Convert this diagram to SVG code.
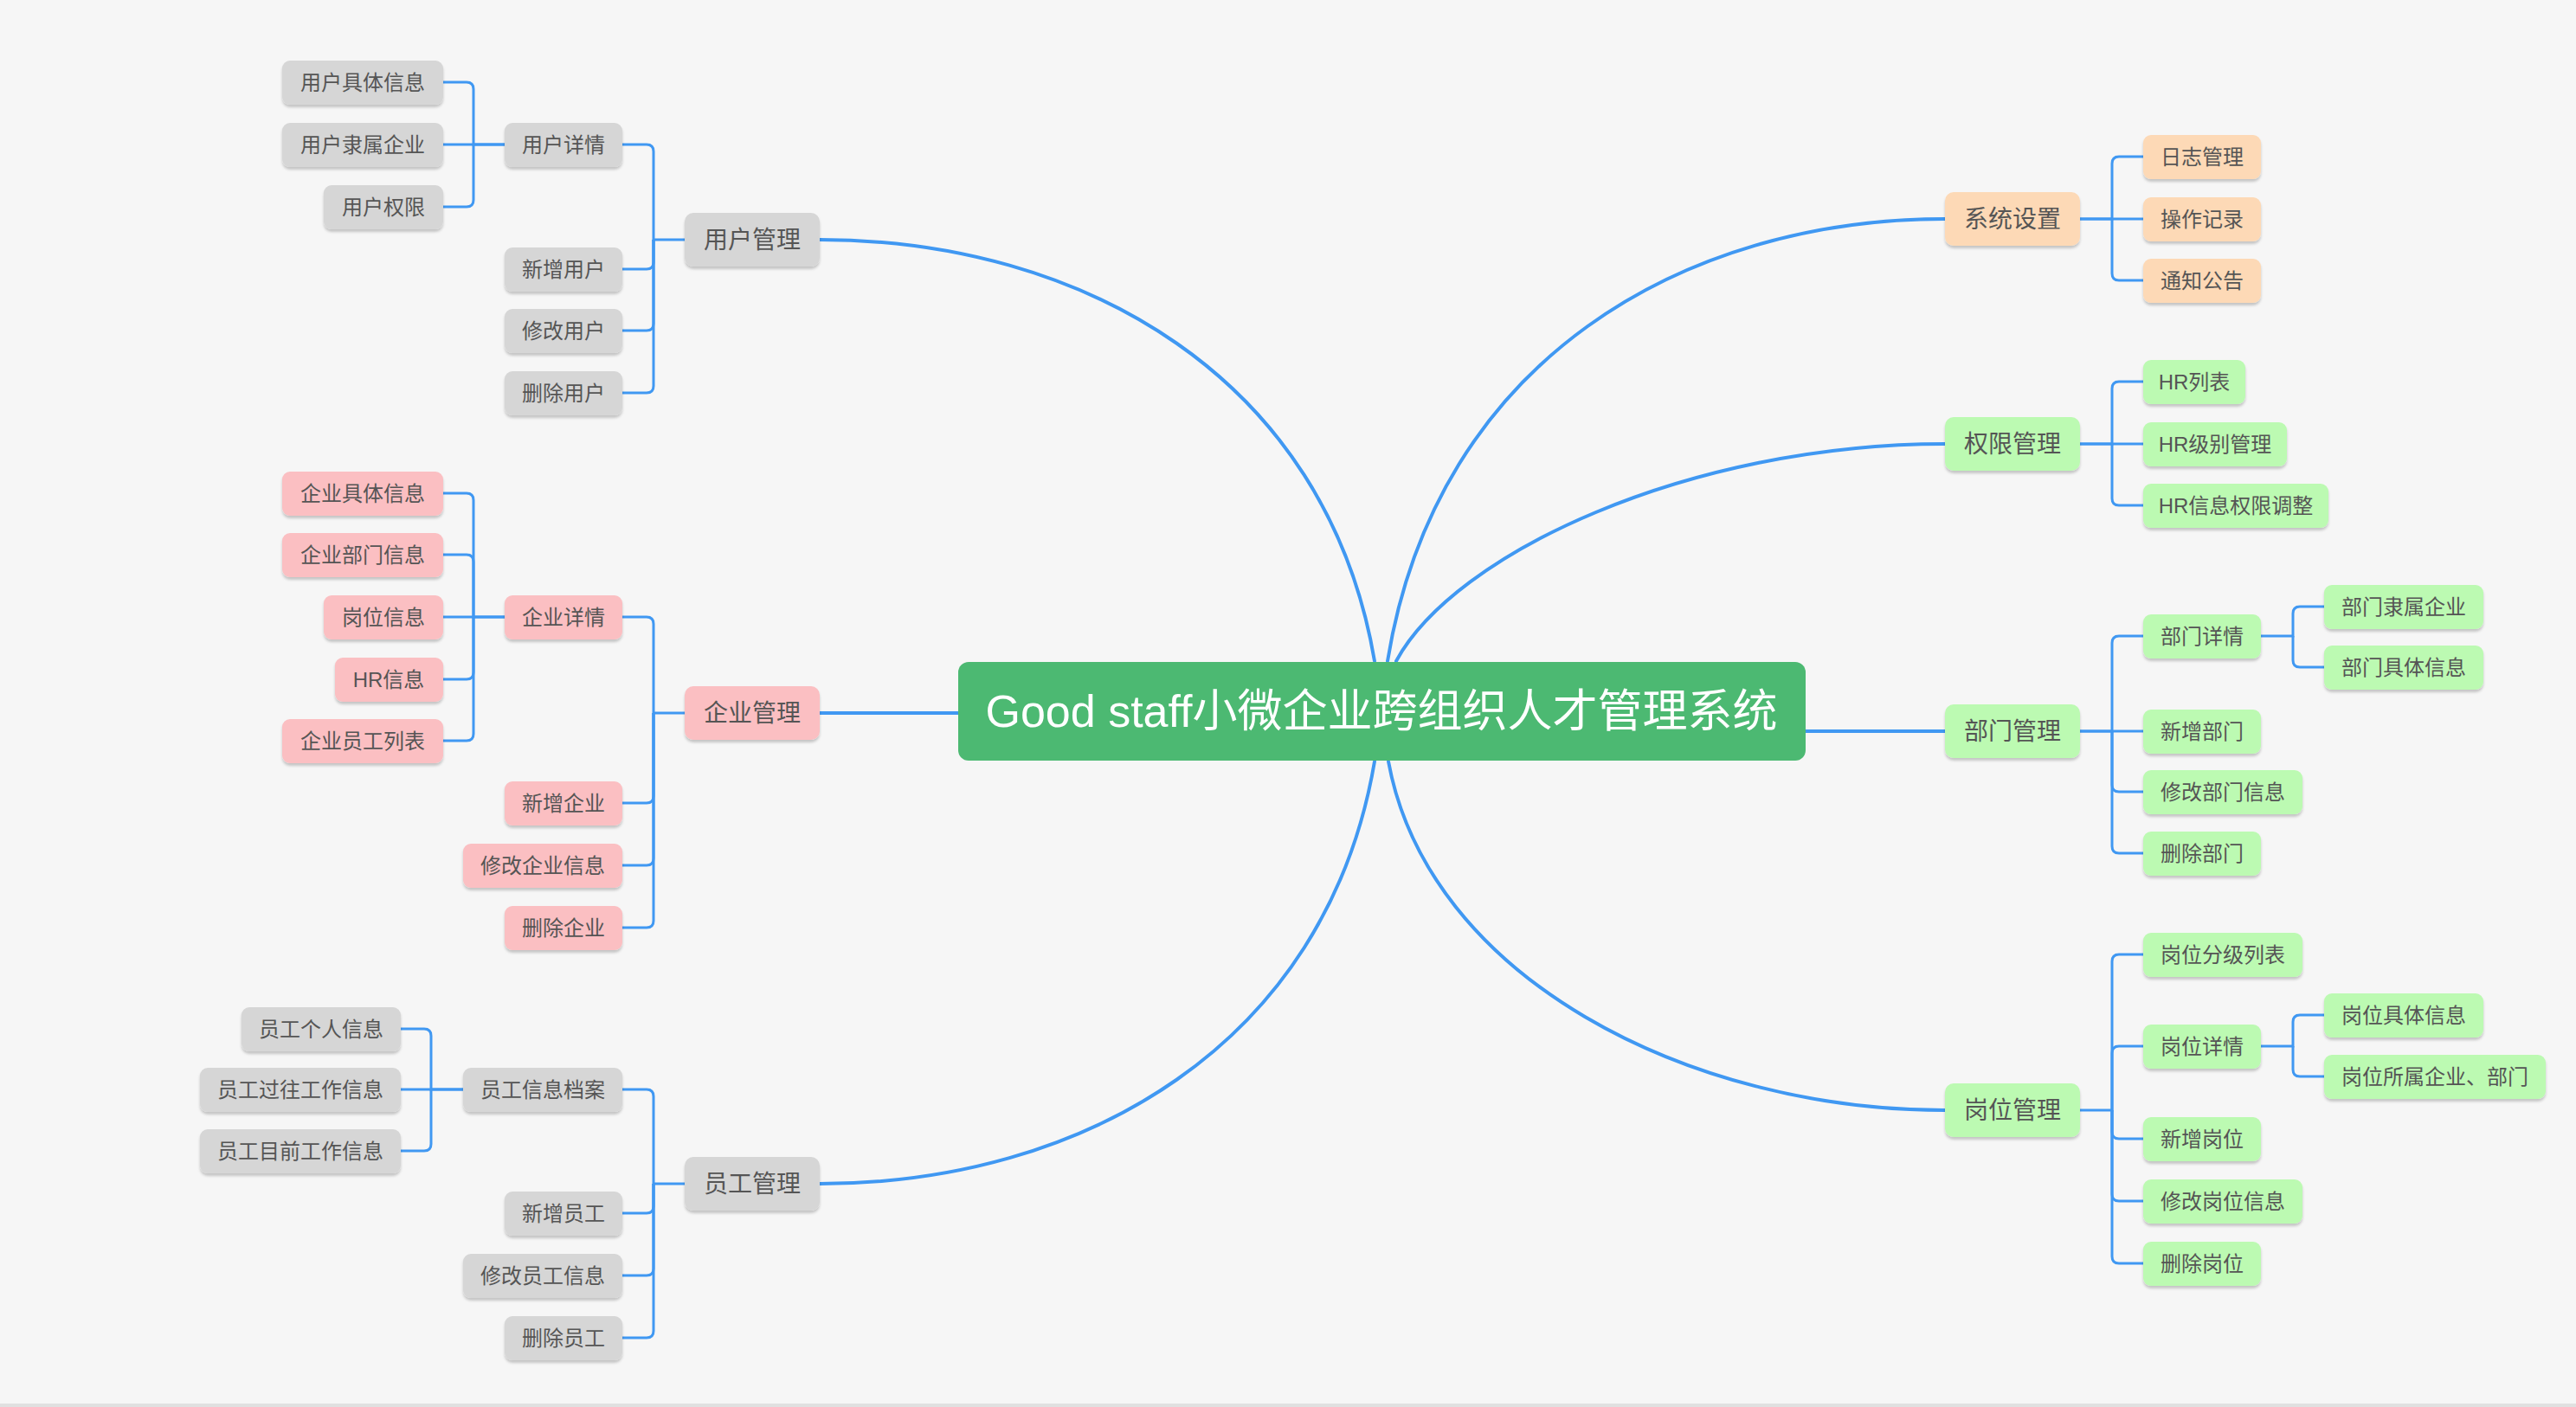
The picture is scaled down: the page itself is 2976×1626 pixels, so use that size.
<svg xmlns="http://www.w3.org/2000/svg" width="2976" height="1626" viewBox="0 0 2976 1626">
<style>
text{font-family:"Liberation Sans","Noto Sans CJK SC",sans-serif;text-anchor:middle;fill:#555555}
.t2{font-size:24px}
.t1{font-size:28px}
.tc{font-size:52px;fill:#ffffff}
.gy{fill:#d6d6d6}
.pk{fill:#fbbfc2}
.pc{fill:#fdd9b6}
.gn{fill:#bcfab2}
.box{filter:url(#sh)}
.c{fill:none;stroke:#4098f2;stroke-width:3}
.m{fill:none;stroke:#4098f2;stroke-width:4;stroke-linecap:round}
</style>
<defs>
<filter id="sh" x="-10%" y="-20%" width="120%" height="150%">
<feDropShadow dx="0" dy="3" stdDeviation="1.5" flood-color="#000000" flood-opacity="0.2"/>
</filter>
</defs>
<rect x="0" y="0" width="2976" height="1626" fill="#f6f6f6"/>
<rect x="0" y="1622" width="2976" height="4" fill="#e0e0e0"/>
<g id="connectors">
<path class="m" d="M947,277 C1248,277 1532,434 1588,764"/>
<path class="m" d="M947,824 H1107"/>
<path class="m" d="M1588,880 C1532,1210 1248,1368 947,1368"/>
<path class="m" d="M1603,764 C1660,414 1947,253 2247,253"/>
<path class="m" d="M1613,764 C1680,640 1950,513 2247,513"/>
<path class="m" d="M2086,845 H2247"/>
<path class="m" d="M1604,880 C1650,1130 1950,1283 2247,1283"/>
<path class="c" d="M512,95 H539 Q547,95 547,103 V167 H583"/>
<path class="c" d="M512,167 H583"/>
<path class="c" d="M512,239 H539 Q547,239 547,231 V167"/>
<path class="c" d="M719,167 H747 Q755,167 755,175 V277 H791"/>
<path class="c" d="M719,311 H747 Q755,311 755,303 V277"/>
<path class="c" d="M719,382 H747 Q755,382 755,374 V277"/>
<path class="c" d="M719,454 H747 Q755,454 755,446 V277"/>
<path class="c" d="M512,570 H539 Q547,570 547,578 V713 H583"/>
<path class="c" d="M512,641 H539 Q547,641 547,649 V713"/>
<path class="c" d="M512,713 H583"/>
<path class="c" d="M512,785 H539 Q547,785 547,777 V713"/>
<path class="c" d="M512,856 H539 Q547,856 547,848 V713"/>
<path class="c" d="M719,713 H747 Q755,713 755,721 V824 H791"/>
<path class="c" d="M719,928 H747 Q755,928 755,920 V824"/>
<path class="c" d="M719,1000 H747 Q755,1000 755,992 V824"/>
<path class="c" d="M719,1072 H747 Q755,1072 755,1064 V824"/>
<path class="c" d="M463,1189 H490 Q498,1189 498,1197 V1259 H535"/>
<path class="c" d="M463,1259 H535"/>
<path class="c" d="M463,1330 H490 Q498,1330 498,1322 V1259"/>
<path class="c" d="M719,1259 H747 Q755,1259 755,1267 V1368 H791"/>
<path class="c" d="M719,1402 H747 Q755,1402 755,1394 V1368"/>
<path class="c" d="M719,1474 H747 Q755,1474 755,1466 V1368"/>
<path class="c" d="M719,1546 H747 Q755,1546 755,1538 V1368"/>
<path class="c" d="M2403,253 H2440 V189 Q2440,181 2448,181 H2476"/>
<path class="c" d="M2403,253 H2476"/>
<path class="c" d="M2440,253 V316 Q2440,324 2448,324 H2476"/>
<path class="c" d="M2403,513 H2440 V449 Q2440,441 2448,441 H2476"/>
<path class="c" d="M2403,513 H2476"/>
<path class="c" d="M2440,513 V576 Q2440,584 2448,584 H2476"/>
<path class="c" d="M2403,845 H2440 V743 Q2440,735 2448,735 H2476"/>
<path class="c" d="M2403,845 H2476"/>
<path class="c" d="M2440,845 V907 Q2440,915 2448,915 H2476"/>
<path class="c" d="M2440,845 V978 Q2440,986 2448,986 H2476"/>
<path class="c" d="M2612,735 H2649 V709 Q2649,701 2657,701 H2685"/>
<path class="c" d="M2649,735 V763 Q2649,771 2657,771 H2685"/>
<path class="c" d="M2403,1283 H2440 V1111 Q2440,1103 2448,1103 H2476"/>
<path class="c" d="M2440,1283 V1217 Q2440,1209 2448,1209 H2476"/>
<path class="c" d="M2440,1283 V1308 Q2440,1316 2448,1316 H2476"/>
<path class="c" d="M2440,1283 V1380 Q2440,1388 2448,1388 H2476"/>
<path class="c" d="M2440,1283 V1452 Q2440,1460 2448,1460 H2476"/>
<path class="c" d="M2612,1209 H2649 V1181 Q2649,1173 2657,1173 H2685"/>
<path class="c" d="M2649,1209 V1236 Q2649,1244 2657,1244 H2685"/>
</g>
<g id="root"><rect x="1107" y="765" width="979" height="114" rx="12" fill="#4cb972"/><text class="tc" x="1596" y="840">Good staff小微企业跨组织人才管理系统</text></g>
<g id="user-mgmt"><rect class="box gy" x="791" y="246" width="156" height="62" rx="10"/><text class="t1" x="869" y="287">用户管理</text></g>
<g id="user-detail"><rect class="box gy" x="583" y="142" width="136" height="51" rx="9"/><text class="t2" x="651" y="176">用户详情</text></g>
<g id="user-info"><rect class="box gy" x="326" y="70" width="186" height="51" rx="9"/><text class="t2" x="419" y="104">用户具体信息</text></g>
<g id="user-company"><rect class="box gy" x="326" y="142" width="186" height="51" rx="9"/><text class="t2" x="419" y="176">用户隶属企业</text></g>
<g id="user-perm"><rect class="box gy" x="374" y="214" width="138" height="51" rx="9"/><text class="t2" x="443" y="248">用户权限</text></g>
<g id="user-add"><rect class="box gy" x="583" y="286" width="136" height="51" rx="9"/><text class="t2" x="651" y="320">新增用户</text></g>
<g id="user-edit"><rect class="box gy" x="583" y="357" width="136" height="51" rx="9"/><text class="t2" x="651" y="391">修改用户</text></g>
<g id="user-del"><rect class="box gy" x="583" y="429" width="136" height="51" rx="9"/><text class="t2" x="651" y="463">删除用户</text></g>
<g id="ent-mgmt"><rect class="box pk" x="791" y="793" width="156" height="62" rx="10"/><text class="t1" x="869" y="834">企业管理</text></g>
<g id="ent-detail"><rect class="box pk" x="583" y="688" width="136" height="51" rx="9"/><text class="t2" x="651" y="722">企业详情</text></g>
<g id="ent-info"><rect class="box pk" x="326" y="545" width="186" height="51" rx="9"/><text class="t2" x="419" y="579">企业具体信息</text></g>
<g id="ent-dept"><rect class="box pk" x="326" y="616" width="186" height="51" rx="9"/><text class="t2" x="419" y="650">企业部门信息</text></g>
<g id="ent-post"><rect class="box pk" x="374" y="688" width="138" height="51" rx="9"/><text class="t2" x="443" y="722">岗位信息</text></g>
<g id="ent-hr"><rect class="box pk" x="387" y="760" width="125" height="51" rx="9"/><text class="t2" x="449" y="794">HR信息</text></g>
<g id="ent-staff"><rect class="box pk" x="326" y="831" width="186" height="51" rx="9"/><text class="t2" x="419" y="865">企业员工列表</text></g>
<g id="ent-add"><rect class="box pk" x="583" y="903" width="136" height="51" rx="9"/><text class="t2" x="651" y="937">新增企业</text></g>
<g id="ent-edit"><rect class="box pk" x="535" y="975" width="184" height="51" rx="9"/><text class="t2" x="627" y="1009">修改企业信息</text></g>
<g id="ent-del"><rect class="box pk" x="583" y="1047" width="136" height="51" rx="9"/><text class="t2" x="651" y="1081">删除企业</text></g>
<g id="emp-mgmt"><rect class="box gy" x="791" y="1337" width="156" height="62" rx="10"/><text class="t1" x="869" y="1378">员工管理</text></g>
<g id="emp-file"><rect class="box gy" x="535" y="1234" width="184" height="51" rx="9"/><text class="t2" x="627" y="1268">员工信息档案</text></g>
<g id="emp-personal"><rect class="box gy" x="279" y="1164" width="184" height="51" rx="9"/><text class="t2" x="371" y="1198">员工个人信息</text></g>
<g id="emp-past"><rect class="box gy" x="231" y="1234" width="232" height="51" rx="9"/><text class="t2" x="347" y="1268">员工过往工作信息</text></g>
<g id="emp-current"><rect class="box gy" x="231" y="1305" width="232" height="51" rx="9"/><text class="t2" x="347" y="1339">员工目前工作信息</text></g>
<g id="emp-add"><rect class="box gy" x="583" y="1377" width="136" height="51" rx="9"/><text class="t2" x="651" y="1411">新增员工</text></g>
<g id="emp-edit"><rect class="box gy" x="535" y="1449" width="184" height="51" rx="9"/><text class="t2" x="627" y="1483">修改员工信息</text></g>
<g id="emp-del"><rect class="box gy" x="583" y="1521" width="136" height="51" rx="9"/><text class="t2" x="651" y="1555">删除员工</text></g>
<g id="sys-set"><rect class="box pc" x="2247" y="222" width="156" height="62" rx="10"/><text class="t1" x="2325" y="263">系统设置</text></g>
<g id="sys-log"><rect class="box pc" x="2476" y="156" width="136" height="51" rx="9"/><text class="t2" x="2544" y="190">日志管理</text></g>
<g id="sys-op"><rect class="box pc" x="2476" y="228" width="136" height="51" rx="9"/><text class="t2" x="2544" y="262">操作记录</text></g>
<g id="sys-notice"><rect class="box pc" x="2476" y="299" width="136" height="51" rx="9"/><text class="t2" x="2544" y="333">通知公告</text></g>
<g id="perm-mgmt"><rect class="box gn" x="2247" y="482" width="156" height="62" rx="10"/><text class="t1" x="2325" y="523">权限管理</text></g>
<g id="perm-hrlist"><rect class="box gn" x="2476" y="416" width="118" height="51" rx="9"/><text class="t2" x="2535" y="450">HR列表</text></g>
<g id="perm-hrlevel"><rect class="box gn" x="2476" y="488" width="166" height="51" rx="9"/><text class="t2" x="2559" y="522">HR级别管理</text></g>
<g id="perm-hradj"><rect class="box gn" x="2476" y="559" width="214" height="51" rx="9"/><text class="t2" x="2583" y="593">HR信息权限调整</text></g>
<g id="dept-mgmt"><rect class="box gn" x="2247" y="814" width="156" height="62" rx="10"/><text class="t1" x="2325" y="855">部门管理</text></g>
<g id="dept-detail"><rect class="box gn" x="2476" y="710" width="136" height="51" rx="9"/><text class="t2" x="2544" y="744">部门详情</text></g>
<g id="dept-company"><rect class="box gn" x="2685" y="676" width="184" height="51" rx="9"/><text class="t2" x="2777" y="710">部门隶属企业</text></g>
<g id="dept-info"><rect class="box gn" x="2685" y="746" width="184" height="51" rx="9"/><text class="t2" x="2777" y="780">部门具体信息</text></g>
<g id="dept-add"><rect class="box gn" x="2476" y="820" width="136" height="51" rx="9"/><text class="t2" x="2544" y="854">新增部门</text></g>
<g id="dept-edit"><rect class="box gn" x="2476" y="890" width="184" height="51" rx="9"/><text class="t2" x="2568" y="924">修改部门信息</text></g>
<g id="dept-del"><rect class="box gn" x="2476" y="961" width="136" height="51" rx="9"/><text class="t2" x="2544" y="995">删除部门</text></g>
<g id="post-mgmt"><rect class="box gn" x="2247" y="1252" width="156" height="62" rx="10"/><text class="t1" x="2325" y="1293">岗位管理</text></g>
<g id="post-level"><rect class="box gn" x="2476" y="1078" width="184" height="51" rx="9"/><text class="t2" x="2568" y="1112">岗位分级列表</text></g>
<g id="post-detail"><rect class="box gn" x="2476" y="1184" width="136" height="51" rx="9"/><text class="t2" x="2544" y="1218">岗位详情</text></g>
<g id="post-info"><rect class="box gn" x="2685" y="1148" width="184" height="51" rx="9"/><text class="t2" x="2777" y="1182">岗位具体信息</text></g>
<g id="post-owner"><rect class="box gn" x="2685" y="1219" width="256" height="51" rx="9"/><text class="t2" x="2813" y="1253">岗位所属企业、部门</text></g>
<g id="post-add"><rect class="box gn" x="2476" y="1291" width="136" height="51" rx="9"/><text class="t2" x="2544" y="1325">新增岗位</text></g>
<g id="post-edit"><rect class="box gn" x="2476" y="1363" width="184" height="51" rx="9"/><text class="t2" x="2568" y="1397">修改岗位信息</text></g>
<g id="post-del"><rect class="box gn" x="2476" y="1435" width="136" height="51" rx="9"/><text class="t2" x="2544" y="1469">删除岗位</text></g>
</svg>
